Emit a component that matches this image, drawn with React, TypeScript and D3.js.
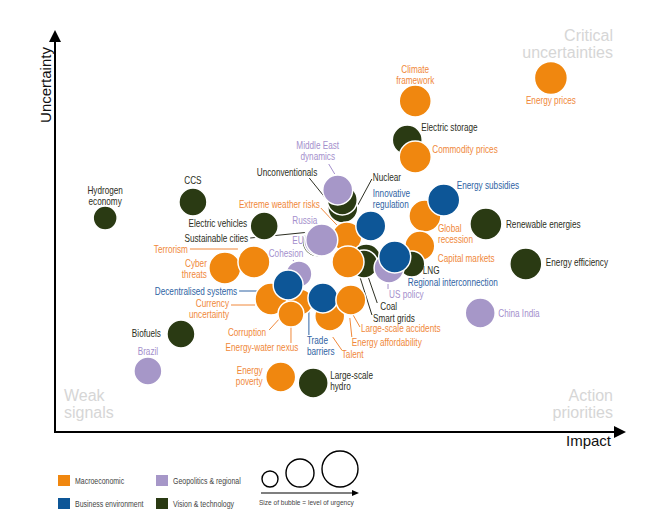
import React from "react";
import * as d3 from "d3";

// ---------- DATA ----------
const risks = [
  "Energy prices", "Climate framework", "Electric storage", "Commodity prices",
  "Hydrogen economy", "CCS", "Electric vehicles", "Nuclear", "Unconventionals",
  "Middle East dynamics", "Sustainable cities", "EU", "Extreme weather risks",
  "Russia", "Innovative regulation", "Coal", "Smart grids", "Large-scale accidents",
  "Global recession", "Energy subsidies", "Renewable energies", "Capital markets",
  "Energy efficiency", "LNG", "US policy", "Regional interconnection", "Cohesion",
  "Currency uncertainty", "Corruption", "Energy-water nexus", "Decentralised systems",
  "Talent", "Trade barriers", "Energy affordability", "Cyber threats", "Terrorism",
  "Biofuels", "Brazil", "Energy poverty", "Large-scale hydro", "China India",
];
const categoryOf = [
  "M", "M", "V", "M", "V", "V", "V", "V", "V", "G", "V", "G", "M", "G", "B", "V", "V", "M",
  "M", "B", "V", "M", "V", "V", "G", "B", "G", "M", "M", "M", "B", "M", "B", "M", "M", "M",
  "V", "G", "M", "V", "G",
];
const impact = [
  87.0, 63.2, 61.8, 63.2, 8.8, 24.2, 36.7, 50.5, 50.4, 49.6, 46.0, 46.3, 51.2, 46.8, 55.4,
  54.6, 54.2, 51.4, 64.9, 68.2, 75.6, 64.0, 82.6, 62.6, 58.6, 59.6, 42.8, 37.9, 43.0, 41.4,
  40.9, 48.2, 47.0, 51.9, 29.8, 34.9, 22.1, 16.3, 39.6, 45.3, 74.6,
];
const uncertainty = [
  88.5, 82.75, 73.0, 68.75, 53.5, 57.5, 51.5, 56.0, 58.0, 60.5, 47.5, 47.75, 48.75, 48.0,
  51.5, 43.25, 42.0, 42.5, 54.0, 58.0, 52.0, 46.5, 42.0, 42.0, 41.0, 43.75, 39.5, 33.25,
  32.5, 29.5, 36.75, 29.0, 33.5, 33.0, 41.0, 42.5, 24.5, 15.25, 13.75, 12.25, 29.75,
];
const urgency = [
  68, 64, 56, 64, 36, 49, 49, 56, 56, 56, 56, 56, 56, 64, 56, 56, 49, 64, 64, 64, 64, 56,
  64, 42, 56, 64, 42, 64, 42, 42, 56, 56, 56, 56, 64, 64, 49, 49, 56, 56, 56,
];

const categoryKeys = ["M", "G", "B", "V"];
const categoryNames = ["Macroeconomic", "Geopolitics & regional", "Business environment", "Vision & technology"];
const legendUrgency = [16, 49, 81];
const quadrantTitles = ["Critical\nuncertainties", "Weak\nsignals", "Action\npriorities"];
const axisTitles = ["Impact", "Uncertainty"];

// label text (multi-line where the chart wraps)
const labelText: Record<string, string> = {
  "Climate framework": "Climate\nframework",
  "Hydrogen economy": "Hydrogen\neconomy",
  "Middle East dynamics": "Middle East\ndynamics",
  "Innovative regulation": "Innovative\nregulation",
  "Global recession": "Global\nrecession",
  "Trade barriers": "Trade\nbarriers",
  "Currency uncertainty": "Currency\nuncertainty",
  "Cyber threats": "Cyber\nthreats",
  "Energy poverty": "Energy\npoverty",
  "Large-scale hydro": "Large-scale\nhydro",
};

// ---------- STYLE / LAYOUT ----------
const W = 672, H = 531;
const fill: Record<string, string> = { M: "#f0870f", B: "#0d5697", G: "#a697c8", V: "#2a3a13" };
const textFill: Record<string, string> = { M: "#f0883a", B: "#2f63a3", G: "#a48fcc", V: "#2c2e22" };
const sans = "'Liberation Sans', Arial, Helvetica, sans-serif";
const SX = 0.82; // horizontal condensing to mimic a narrow face

type LL = { dx: number; dy: number; a: "start" | "middle" | "end"; lead?: number[] };
const layout: Record<string, LL> = {
  "Energy prices": { dx: 0, dy: 26, a: "middle" },
  "Climate framework": { dx: 0, dy: -28, a: "middle" },
  "Electric storage": { dx: 14, dy: -9, a: "start" },
  "Commodity prices": { dx: 17, dy: -4, a: "start" },
  "Hydrogen economy": { dx: 0, dy: -24, a: "middle" },
  "CCS": { dx: 0, dy: -18, a: "middle" },
  "Electric vehicles": { dx: -17, dy: 1, a: "end" },
  "Middle East dynamics": { dx: -20, dy: -41, a: "middle", lead: [-9, -26, -3, -16] },
  "Unconventionals": { dx: -25, dy: -24, a: "end", lead: [-33, -22, -12, 4] },
  "Nuclear": { dx: 30, dy: -27, a: "start", lead: [29, -29, 15, -3] },
  "Innovative regulation": { dx: 2, dy: -29, a: "start" },
  "Energy subsidies": { dx: 13, dy: -11, a: "start" },
  "Global recession": { dx: 13, dy: 16, a: "start" },
  "Renewable energies": { dx: 20, dy: 4, a: "start" },
  "Capital markets": { dx: 18, dy: 16, a: "start" },
  "Energy efficiency": { dx: 20, dy: 2, a: "start" },
  "Sustainable cities": { dx: -69, dy: 0, a: "end", lead: [-67, -4, -7, -10] },
  "EU": { dx: -21, dy: 3, a: "middle" },
  "Russia": { dx: -17, dy: -16, a: "middle" },
  "Extreme weather risks": { dx: -27, dy: -29, a: "end", lead: [-26, -29, -10, -12] },
  "Coal": { dx: 14, dy: 51, a: "start", lead: [11, 44, 2, 18] },
  "Smart grids": { dx: 9, dy: 58, a: "start", lead: [8, 51, -4, 13] },
  "Large-scale accidents": { dx: 13, dy: 70, a: "start", lead: [12, 65, 4, 51] },
  "Energy affordability": { dx: 1, dy: 46, a: "start", lead: [1, 37, -1, 18] },
  "Talent": { dx: 12, dy: 42, a: "start", lead: [12, 34, 3, 21] },
  "Trade barriers": { dx: -16, dy: 46, a: "start", lead: [-14, 12, -14, 37] },
  "US policy": { dx: 0, dy: 30, a: "start", lead: [-1, 16, -1, 21] },
  "Regional interconnection": { dx: 13, dy: 29, a: "start" },
  "LNG": { dx: 11, dy: 10, a: "start" },
  "Cohesion": { dx: -13, dy: -17, a: "middle", lead: [-6, -14, -2, -9] },
  "Decentralised systems": { dx: -51, dy: 10, a: "end", lead: [-49, 6, -14, 6] },
  "Currency uncertainty": { dx: -42, dy: 8, a: "end", lead: [-40, 6, -16, 6] },
  "Corruption": { dx: -34, dy: 34, a: "end", lead: [-31, 28, -20, 16] },
  "Energy-water nexus": { dx: -29, dy: 37, a: "middle", lead: [0, 12, 0, 29] },
  "Cyber threats": { dx: -18, dy: -1, a: "end" },
  "Terrorism": { dx: -66, dy: -9, a: "end", lead: [-64, -13, -16, -13] },
  "Biofuels": { dx: -20, dy: 3, a: "end" },
  "Brazil": { dx: 0, dy: -16, a: "middle" },
  "Energy poverty": { dx: -18, dy: -3, a: "end" },
  "Large-scale hydro": { dx: 17, dy: -4, a: "start" },
  "China India": { dx: 18, dy: 4, a: "start" },
};

function NarrowText(props: { x: number; y: number; lines: string[]; anchor: string; fill: string; size: number; lh?: number }) {
  const { x, y, lines, anchor, fill: f, size, lh = 11 } = props;
  return (
    <text transform={`translate(${x},${y}) scale(${SX},1)`} textAnchor={anchor as any} fill={f}
      fontFamily={sans} fontSize={size}>
      {lines.map((t, k) => (
        <tspan key={k} x={0} dy={k === 0 ? 0 : lh}>{t}</tspan>
      ))}
    </text>
  );
}

export default function App() {
  const x = d3.scaleLinear().domain([0, 100]).range([55, 625]);
  const y = d3.scaleLinear().domain([0, 100]).range([432, 32]);
  const r = d3.scaleSqrt().domain([0, 100]).range([0, 20]);
  const originX = x(0), originY = y(0);

  const items = risks.map((name, i) => ({
    name, cat: categoryOf[i], cx: x(impact[i]), cy: y(uncertainty[i]), rr: r(urgency[i]),
  }));

  return (
    <svg width={W} height={H} style={{ position: "absolute", left: 0, top: 0, background: "#fff" }}>
      {/* quadrant titles */}
      <g fill="#d6d6d6" fontFamily={sans} fontSize={16}>
        {quadrantTitles[0].split("\n").map((t, k) => (
          <text key={k} x={613} y={41 + k * 16.5} textAnchor="end">{t}</text>
        ))}
        {quadrantTitles[1].split("\n").map((t, k) => (
          <text key={k} x={64} y={401 + k * 17} textAnchor="start">{t}</text>
        ))}
        {quadrantTitles[2].split("\n").map((t, k) => (
          <text key={k} x={613} y={401 + k * 17} textAnchor="end">{t}</text>
        ))}
      </g>

      {/* axes */}
      <g stroke="#000" strokeWidth={2}>
        <line x1={originX} y1={originY} x2={originX} y2={40} />
        <line x1={originX - 1} y1={originY} x2={617} y2={originY} />
      </g>
      <path d={`M${originX},30 L${originX - 6},42 L${originX + 6},42 Z`} fill="#000" />
      <path d={`M626,${originY} L614,${originY - 6} L614,${originY + 6} Z`} fill="#000" />
      <text x={566} y={446} fontFamily={sans} fontSize={15} fill="#111">{axisTitles[0]}</text>
      <text transform={`translate(51,85) rotate(-90)`} textAnchor="middle" fontFamily={sans} fontSize={15} fill="#111">{axisTitles[1]}</text>

      {/* leader lines */}
      <g>
        {items.map((d) => {
          const L = layout[d.name];
          if (!L || !L.lead) return null;
          return (
            <line key={d.name} x1={d.cx + L.lead[0]} y1={d.cy + L.lead[1]} x2={d.cx + L.lead[2]} y2={d.cy + L.lead[3]}
              stroke={textFill[d.cat]} strokeWidth={1} />
          );
        })}
      </g>

      {/* bubbles */}
      <g>
        {items.map((d) => (
          <circle key={d.name} cx={d.cx} cy={d.cy} r={d.rr} fill={fill[d.cat]} stroke="#fff" strokeWidth={1.5} />
        ))}
      </g>

      {/* labels */}
      <g>
        {items.map((d) => {
          const L = layout[d.name];
          const lines = (labelText[d.name] || d.name).split("\n");
          return (
            <NarrowText key={d.name} x={d.cx + L.dx} y={d.cy + L.dy} lines={lines} anchor={L.a}
              fill={textFill[d.cat]} size={10} />
          );
        })}
      </g>

      {/* category legend */}
      <g>
        {categoryKeys.map((c, i) => {
          const lx = i % 2 === 0 ? 58 : 156;
          const ly = i < 2 ? 475 : 498;
          return (
            <g key={c}>
              <rect x={lx} y={ly} width={12} height={11} fill={fill[c]} />
              <NarrowText x={lx + 17} y={ly + 9} lines={[categoryNames[i]]} anchor="start" fill="#444" size={8.5} />
            </g>
          );
        })}
      </g>

      {/* size legend */}
      <g>
        {legendUrgency.map((u, i) => {
          const cxs = [270, 300, 340];
          const rr = r(u);
          return <circle key={i} cx={cxs[i]} cy={487 - rr} r={rr} fill="none" stroke="#000" strokeWidth={1.4} />;
        })}
        <line x1={261} y1={493} x2={354} y2={493} stroke="#000" strokeWidth={1.2} />
        <path d="M359,493 L352,490 L352,496 Z" fill="#000" />
        <NarrowText x={259} y={505} lines={["Size of bubble = level of urgency"]} anchor="start" fill="#444" size={8} />
      </g>
    </svg>
  );
}
